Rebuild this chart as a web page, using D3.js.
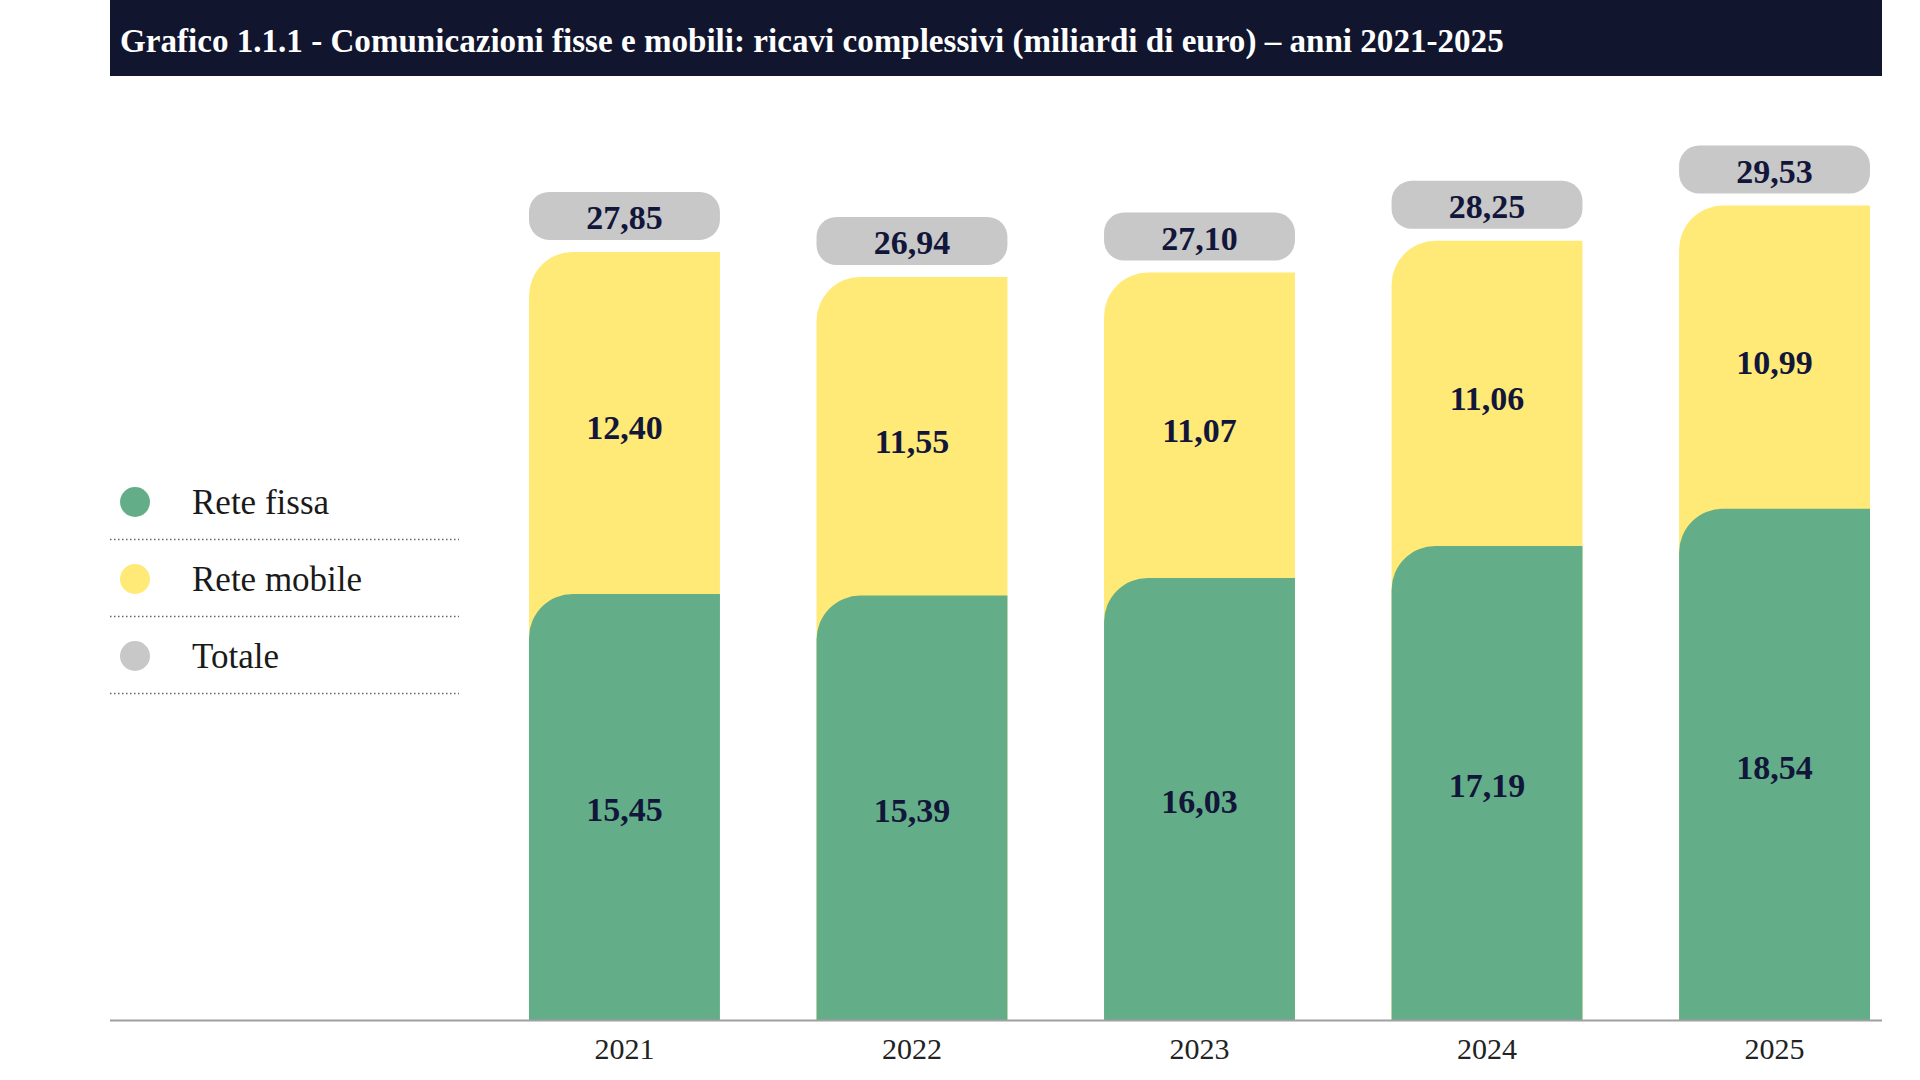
<!DOCTYPE html>
<html>
<head>
<meta charset="utf-8">
<script src="https://cdn.jsdelivr.net/npm/d3@7"></script>
<style>
  html, body { margin: 0; padding: 0; background: #ffffff; }
  svg { display: block; }
</style>
</head>
<body>
<svg id="chart" width="1920" height="1080"></svg>
<script>
// ---- Data ----
const years = ["2021", "2022", "2023", "2024", "2025"];
const reteFissa = [15.45, 15.39, 16.03, 17.19, 18.54];
const reteMobile = [12.40, 11.55, 11.07, 11.06, 10.99];
const totale = [27.85, 26.94, 27.10, 28.25, 29.53];
const seriesNames = ["Rete fissa", "Rete mobile", "Totale"];
const titleText = "Grafico 1.1.1 - Comunicazioni fisse e mobili: ricavi complessivi (miliardi di euro) – anni 2021-2025";

// ---- Styles ----
const colors = { fissa: "#63ae88", mobile: "#ffea77", totale: "#c8c8c8" };
const navy = "#12163a";
const serif = "'Liberation Serif', 'DejaVu Serif', serif";

const svg = d3.select("#chart");

const itLocale = d3.formatLocale({ decimal: ",", thousands: ".", grouping: [3], currency: ["€", ""] });
const fmt = itLocale.format(".2f");

// ---- Scales ----
const x = d3.scaleBand().domain(years).range([529, 1870]).paddingInner(0.336).paddingOuter(0);
const y = d3.scaleLinear().domain([0, 30]).range([1020, 1020 - 30 * 27.58]);
const bw = x.bandwidth();
const R = 44;

function topLeftRounded(x0, y0, w, h, r) {
  r = Math.min(r, h, w);
  return `M${x0},${y0 + h} V${y0 + r} A${r},${r} 0 0 1 ${x0 + r},${y0} H${x0 + w} V${y0 + h} Z`;
}

// ---- Title band ----
svg.append("rect").attr("x", 110).attr("y", 0).attr("width", 1772).attr("height", 76).attr("fill", "#11152e");
const title = svg.append("text")
  .attr("x", 120).attr("y", 52)
  .attr("fill", "#ffffff")
  .attr("font-family", serif)
  .attr("font-weight", "bold")
  .attr("font-size", 30)
  .text(titleText);
const tl = title.node().getComputedTextLength();
title.attr("font-size", 30 * 1384 / tl);

// ---- Bars ----
const g = svg.append("g");
const valueSize = 34;
years.forEach((yr, i) => {
  const x0 = x(yr);
  g.append("path")
    .attr("d", topLeftRounded(x0, y(totale[i]), bw, y(0) - y(totale[i]), R))
    .attr("fill", colors.mobile);
  g.append("path")
    .attr("d", topLeftRounded(x0, y(reteFissa[i]), bw, y(0) - y(reteFissa[i]), R))
    .attr("fill", colors.fissa);

  g.append("text")
    .attr("x", x0 + bw / 2).attr("y", (y(reteFissa[i]) + y(0)) / 2 + 3)
    .attr("text-anchor", "middle").attr("dominant-baseline", "central")
    .attr("font-family", serif).attr("font-weight", "bold").attr("font-size", valueSize)
    .attr("fill", navy).text(fmt(reteFissa[i]));
  g.append("text")
    .attr("x", x0 + bw / 2).attr("y", (y(totale[i]) + y(reteFissa[i])) / 2 + 5)
    .attr("text-anchor", "middle").attr("dominant-baseline", "central")
    .attr("font-family", serif).attr("font-weight", "bold").attr("font-size", valueSize)
    .attr("fill", navy).text(fmt(reteMobile[i]));

  const pillBottom = y(totale[i]) - 12;
  const pillH = 48;
  g.append("rect")
    .attr("x", x0).attr("y", pillBottom - pillH)
    .attr("width", bw).attr("height", pillH)
    .attr("rx", 20).attr("ry", 20)
    .attr("fill", colors.totale);
  g.append("text")
    .attr("x", x0 + bw / 2).attr("y", pillBottom - pillH / 2 + 2)
    .attr("text-anchor", "middle").attr("dominant-baseline", "central")
    .attr("font-family", serif).attr("font-weight", "bold").attr("font-size", valueSize)
    .attr("fill", navy).text(fmt(totale[i]));
});

// ---- Baseline & axis ----
svg.append("line")
  .attr("x1", 110).attr("x2", 1882)
  .attr("y1", y(0) + 0.5).attr("y2", y(0) + 0.5)
  .attr("stroke", "#a0a0a0").attr("stroke-width", 2);

const axis = svg.append("g")
  .attr("transform", `translate(0,${y(0)})`)
  .call(d3.axisBottom(x).tickSize(0).tickPadding(18));
axis.select(".domain").remove();
axis.selectAll("text")
  .attr("font-family", serif).attr("font-size", 30).attr("fill", "#222222");

// ---- Legend ----
const legendColors = [colors.fissa, colors.mobile, colors.totale];
const legend = svg.append("g");
seriesNames.forEach((name, i) => {
  const cy = 502 + i * 77;
  legend.append("circle").attr("cx", 135).attr("cy", cy).attr("r", 15).attr("fill", legendColors[i]);
  legend.append("text")
    .attr("x", 192).attr("y", cy).attr("dominant-baseline", "central")
    .attr("font-family", serif).attr("font-size", 35).attr("fill", "#1a1a1a")
    .text(name);
  legend.append("line")
    .attr("x1", 110).attr("x2", 459)
    .attr("y1", cy + 37.5).attr("y2", cy + 37.5)
    .attr("stroke", "#666").attr("stroke-width", 1.5)
    .attr("stroke-dasharray", "1.5,2.5");
});
</script>
</body>
</html>
